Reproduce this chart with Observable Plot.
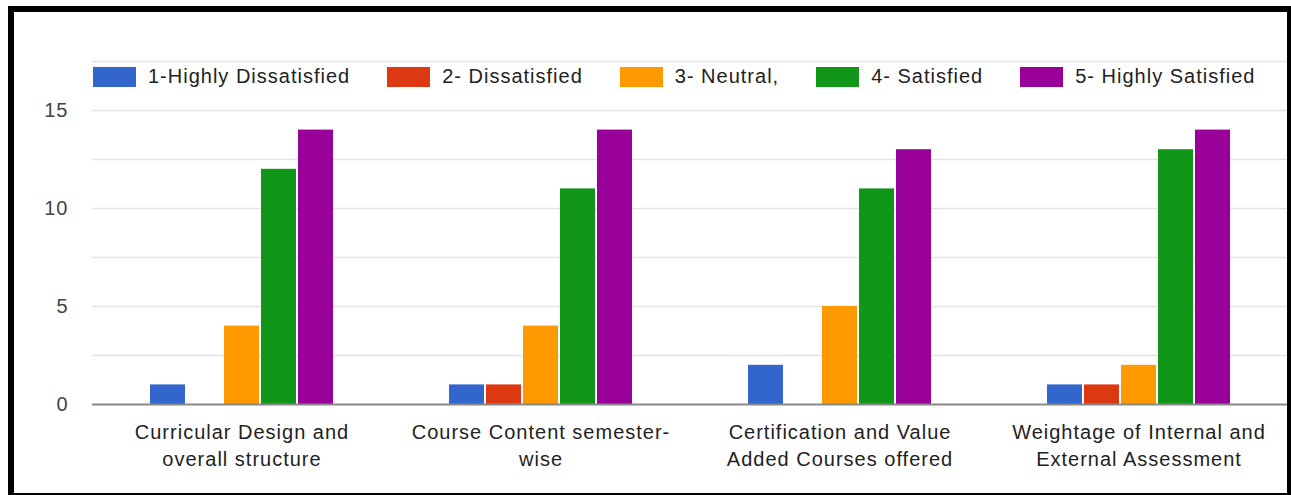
<!DOCTYPE html>
<html>
<head>
<meta charset="utf-8">
<script src="https://cdn.jsdelivr.net/npm/d3@7"></script>
<script src="https://cdn.jsdelivr.net/npm/@observablehq/plot@0.6"></script>
<style>
  html, body { margin: 0; padding: 0; background: #fff; }
  #wrap { position: relative; width: 1291px; height: 495px; overflow: hidden; font-family: "Liberation Sans", Arial, sans-serif; }
  #chart { position: absolute; left: 0; top: 0; }
  #legend { position: absolute; left: 93px; top: 65px; display: flex; align-items: center; font-size: 20px; letter-spacing: 1px; color: #222; }
  .item { display: flex; align-items: center; margin-right: 37px; white-space: nowrap; }
  .sw { width: 43px; height: 20px; margin-right: 12px; }
  #frame { position: absolute; left: 8px; top: 6px; width: 1283px; height: 489px; box-sizing: border-box; border-style: solid; border-color: #000; border-width: 6px 4px 2px 6px; pointer-events: none; }
</style>
</head>
<body>
<div id="wrap">
  <div id="chart"></div>
  <div id="legend"></div>
  <div id="frame"></div>
</div>
<script>
const categories = [
  "Curricular Design and\noverall structure",
  "Course Content semester-\nwise",
  "Certification and Value\nAdded Courses offered",
  "Weightage of Internal and\nExternal Assessment"
];
const series = ["1-Highly Dissatisfied", "2- Dissatisfied", "3- Neutral,", "4- Satisfied", "5- Highly Satisfied"];
const colors = ["#3366cc", "#dc3912", "#ff9900", "#109618", "#990099"];

const highlyDissatisfied = [1, 1, 2, 1];
const dissatisfied = [0, 1, 0, 1];
const neutral = [4, 4, 5, 2];
const satisfied = [12, 11, 11, 13];
const highlySatisfied = [14, 14, 13, 14];

const yTicks = [0, 5, 10, 15];
const gridValues = [2.5, 5, 7.5, 10, 12.5, 15, 17.5];

const seriesValues = [highlyDissatisfied, dissatisfied, neutral, satisfied, highlySatisfied];
const data = [];
categories.forEach((c, i) => {
  series.forEach((s, j) => data.push({category: c, series: s, value: seriesValues[j][i]}));
});

const chart = Plot.plot({
  width: 1291,
  height: 495,
  marginLeft: 92,
  marginRight: 3,
  marginTop: 61,
  marginBottom: 91,
  style: {fontFamily: "'Liberation Sans', Arial, sans-serif", fontSize: "20px", letterSpacing: "1px", background: "transparent"},
  fx: {domain: categories, paddingInner: 0, paddingOuter: 0, label: null, axis: null},
  x: {domain: series, paddingInner: 0.06, paddingOuter: 1.55, axis: null},
  y: {domain: [0, 17.5], label: null},
  color: {domain: series, range: colors},
  marks: [
    Plot.ruleY(gridValues, {stroke: "#e4e4e4", strokeWidth: 1.5}),
    Plot.barY(data, {fx: "category", x: "series", y: "value", fill: "series"}),
    Plot.ruleY([0], {stroke: "#888", strokeWidth: 2}),
    Plot.axisY({ticks: yTicks, tickSize: 0, tickPadding: 24, fill: "#444", label: null, fontSize: 20}),
    Plot.axisFx({anchor: "bottom", tickSize: 0, tickPadding: 15, lineHeight: 1.35, fill: "#222", label: null, fontSize: 20})
  ]
});
document.getElementById("chart").appendChild(chart);

const legend = document.getElementById("legend");
series.forEach((s, j) => {
  const item = document.createElement("div");
  item.className = "item";
  const sw = document.createElement("div");
  sw.className = "sw";
  sw.style.background = colors[j];
  const t = document.createElement("span");
  t.textContent = s;
  item.appendChild(sw);
  item.appendChild(t);
  legend.appendChild(item);
});
</script>
</body>
</html>
